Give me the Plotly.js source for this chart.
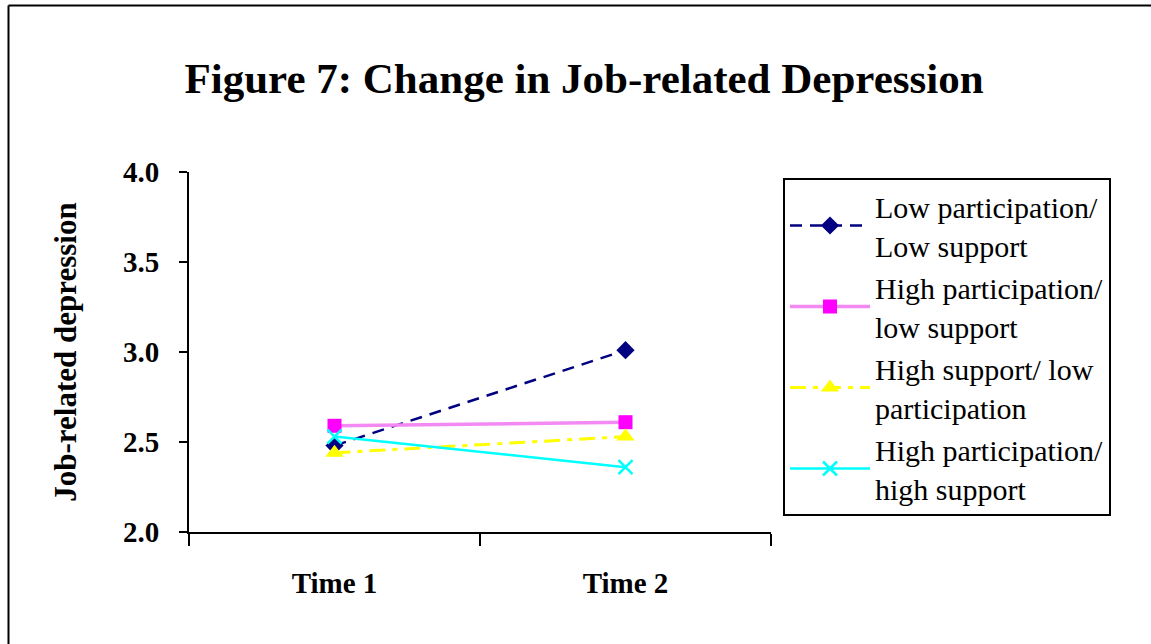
<!DOCTYPE html>
<html>
<head>
<meta charset="utf-8">
<script src="https://cdn.plot.ly/plotly-3.0.1.min.js"></script>
<style>html,body{margin:0;padding:0;background:#fff;}#chart{width:1151px;height:644px;}</style>
</head>
<body>
<div id="chart"></div>
<script>
const categories = ["Time 1", "Time 2"];
const seriesNames = [
  "Low participation/<br>Low support",
  "High participation/<br>low support",
  "High support/ low<br>participation",
  "High participation/<br>high support"
];
const lowPartLowSupport = [2.48, 3.01];
const highPartLowSupport = [2.59, 2.61];
const highSupportLowPart = [2.44, 2.53];
const highPartHighSupport = [2.53, 2.36];
const yTicks = [2.0, 2.5, 3.0, 3.5, 4.0];
const yTickLabels = ["2.0", "2.5", "3.0", "3.5", "4.0"];

const serif = "Liberation Serif, Times New Roman, serif";

const traces = [
  {x: categories, y: lowPartLowSupport, name: seriesNames[0], mode: "lines+markers",
   line: {color: "#000080", width: 2.5, dash: "12px,8px"},
   marker: {symbol: "diamond", size: 14, color: "#000080"}},
  {x: categories, y: highPartLowSupport, name: seriesNames[1], mode: "lines+markers",
   line: {color: "#F38AF3", width: 3.5},
   marker: {symbol: "square", size: 14, color: "#FF00FF"}},
  {x: categories, y: highSupportLowPart, name: seriesNames[2], mode: "lines+markers",
   line: {color: "#FFFF00", width: 3, dash: "16px,7px,5px,7px"},
   marker: {symbol: "triangle-up", size: 16, color: "#FFFF00"}},
  {x: categories, y: highPartHighSupport, name: seriesNames[3], mode: "lines+markers",
   line: {color: "#00FFFF", width: 2.5},
   marker: {symbol: "x-thin", size: 14, color: "#00FFFF", line: {color: "#00FFFF", width: 2.5}}}
];

const L = 189, R = 771, T = 172, B = 532, W = 1151, H = 644;
const pw = R - L, ph = B - T;
const px = v => (v - L) / pw;
const py = v => (B - v) / ph;

const layout = {
  width: W, height: H,
  margin: {l: L, r: W - R, t: T, b: H - B, pad: 0},
  paper_bgcolor: "#fff", plot_bgcolor: "#fff",
  font: {family: serif, color: "#000"},
  title: {text: "<b>Figure 7: Change in Job-related Depression</b>",
    font: {family: serif, size: 43, color: "#000"},
    xref: "paper", x: px(584), xanchor: "center",
    yref: "container", y: 1 - 78 / H, yanchor: "middle"},
  xaxis: {type: "category", range: [-0.5, 1.5], showline: true, linecolor: "#000", linewidth: 2,
    ticks: "outside", tickson: "boundaries", ticklen: 12, tickwidth: 1.5, tickcolor: "#000",
    showgrid: false, zeroline: false, ticklabelstandoff: 24,
    tickfont: {family: serif, size: 29, color: "#000", weight: "bold"}},
  yaxis: {range: [2.0, 4.0], tickvals: yTicks, ticktext: yTickLabels, showline: true, linecolor: "#000", linewidth: 2,
    ticks: "outside", ticklen: 8, tickwidth: 2, tickcolor: "#000", showgrid: false, zeroline: false,
    ticklabelstandoff: 14,
    tickfont: {family: serif, size: 29, color: "#000", weight: "bold"},
    title: {text: "<b>Job-related depression</b>", font: {family: serif, size: 31, color: "#000"}, standoff: 37}},
  legend: {x: px(783), xanchor: "left", y: py(178), yanchor: "top",
    bordercolor: "#000", borderwidth: 2, bgcolor: "#fff",
    font: {family: serif, size: 30, color: "#000"}, itemwidth: 80, tracegroupgap: 0},
  showlegend: true,
  shapes: [
    {type: "line", xref: "paper", yref: "paper", x0: px(8.5), x1: px(8.5), y0: py(5.5), y1: py(700), line: {color: "#000", width: 2}},
    {type: "line", xref: "paper", yref: "paper", x0: px(8.5), x1: px(1200), y0: py(5.5), y1: py(5.5), line: {color: "#000", width: 2}}
  ]
};

Plotly.newPlot("chart", traces, layout, {displayModeBar: false, staticPlot: true});
</script>
</body>
</html>
